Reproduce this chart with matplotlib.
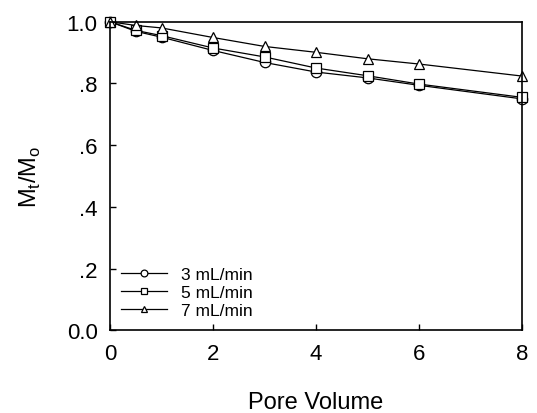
import numpy as np
import matplotlib.pyplot as plt

plt.rcParams['font.family'] = ['Liberation Sans', 'DejaVu Sans']
plt.rcParams['mathtext.fontset'] = 'custom'
plt.rcParams['mathtext.rm'] = 'Liberation Sans'

pore_volume = [0, 0.5, 1, 2, 3, 4, 5, 6, 8]
m_3 = [1.0, 0.969, 0.950, 0.907, 0.868, 0.837, 0.818, 0.794, 0.750]
m_5 = [1.0, 0.972, 0.955, 0.915, 0.886, 0.850, 0.825, 0.798, 0.755]
m_7 = [1.0, 0.988, 0.980, 0.949, 0.920, 0.901, 0.880, 0.863, 0.824]
labels = ['3 mL/min', '5 mL/min', '7 mL/min']

fig = plt.figure(figsize=(5.37, 4.14), dpi=100)
ax = fig.add_axes([0.205, 0.2, 0.767, 0.745])

for y, mk, ms, lab in zip([m_3, m_5, m_7], ['o', 's', '^'], [7.5, 6.5, 7], labels):
    ax.plot(pore_volume, y, marker=mk, color='black', lw=0.9, ms=ms,
            mfc='white', mec='black', mew=0.9, label=lab, clip_on=False)

ax.set_xlim(0, 8)
ax.set_ylim(0, 1.0)
ax.set_xticks([0, 2, 4, 6, 8])
ax.set_yticks([0, 0.2, 0.4, 0.6, 0.8, 1.0])
ax.set_yticklabels(['0.0', '.2', '.4', '.6', '.8', '1.0'])
ax.tick_params(direction='in', labelsize=16, length=4, width=1, pad=9)
for s in ax.spines.values():
    s.set_linewidth(1.2)

ax.set_xlabel('Pore Volume', fontsize=17, labelpad=20)
ax.set_ylabel(r'M$_\mathregular{t}$/M$_\mathregular{o}$', fontsize=17, labelpad=17)

ax.legend(loc='center left', bbox_to_anchor=(0.0, 0.123), frameon=False,
          fontsize=12.5, handlelength=2.7, handletextpad=0.8, labelspacing=0.15,
          markerscale=0.65, borderaxespad=0.2)

fig.savefig('out.png', dpi=100)
